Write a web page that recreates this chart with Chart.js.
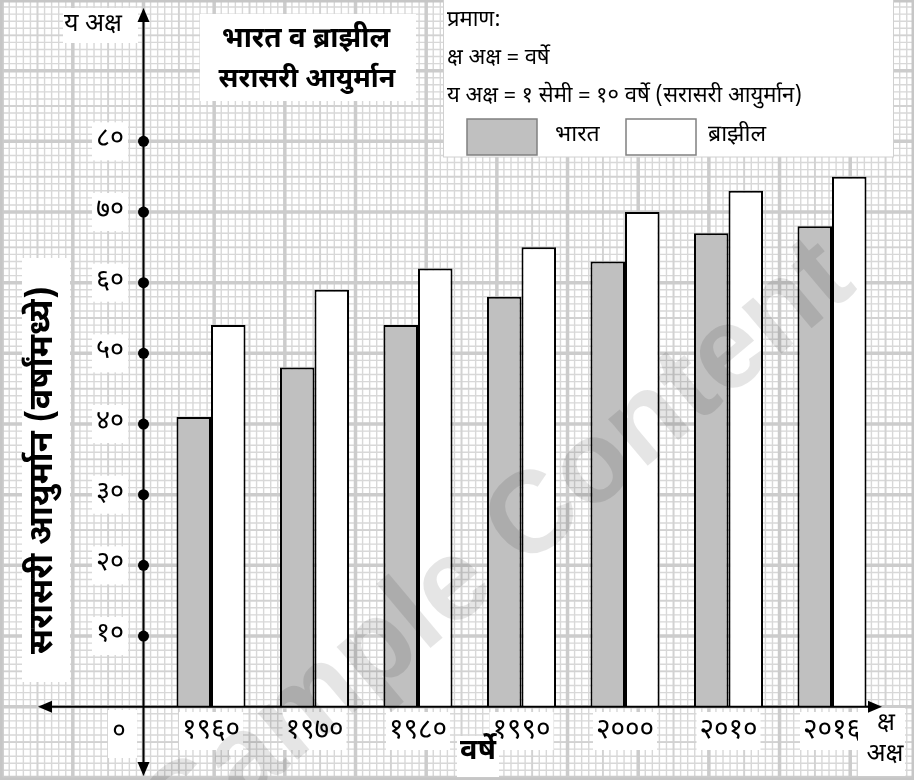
<!DOCTYPE html>
<html>
<head>
<meta charset="utf-8">
<script src="https://cdn.jsdelivr.net/npm/chart.js@4.4.1/dist/chart.umd.min.js"></script>
<style>
html,body{margin:0;padding:0;background:#fff;}
#wrap{width:914px;height:780px;position:relative;}
</style>
</head>
<body>
<div id="wrap"><canvas id="c" width="914" height="780"></canvas></div>
<script>
// ---- data ----
const categories = ['१९६०','१९७०','१९८०','१९९०','२०००','२०१०','२०१६'];
const seriesNames = ['भारत','ब्राझील'];
const indiaValues = [41, 48, 54, 58, 63, 67, 68];
const brazilValues = [54, 59, 62, 65, 70, 73, 75];
const yTickValues = [10, 20, 30, 40, 50, 60, 70, 80];
const yTickLabels = ['१०','२०','३०','४०','५०','६०','७०','८०'];
const originLabel = '०';
const titleLines = ['भारत व ब्राझील','सरासरी आयुर्मान'];
const yAxisTitle = 'सरासरी आयुर्मान (वर्षांमध्ये)';
const xAxisTitle = 'वर्षे';
const scaleLines = ['प्रमाण:','क्ष अक्ष = वर्षे','य अक्ष = १ सेमी = १० वर्षे (सरासरी आयुर्मान)'];
const yAxisName = 'य अक्ष';
const xAxisName = ['क्ष','अक्ष'];
const watermark = 'Sample Content';

const DEV = '"Noto Sans Devanagari","Noto Serif Devanagari","Lohit Devanagari","Mukta","FreeSerif","Noto Sans",sans-serif';
const AXIS_X = 143.5;

function whiteBox(ctx,x,y,w,h){ctx.fillStyle='#fff';ctx.fillRect(x,y,w,h);}
function txt(ctx,s,x,y,font,align){ctx.font=font;ctx.textAlign=align||'center';ctx.textBaseline='middle';ctx.fillStyle='#000';ctx.fillText(s,x,y);}

const paper = {
  id:'paper',
  beforeDraw(chart){
    const ctx = chart.ctx, y = chart.scales.y;
    const W = chart.width, H = chart.height;
    const step = Math.abs(y.getPixelForValue(1) - y.getPixelForValue(0));
    const y0 = y.getPixelForValue(0);
    ctx.save();
    ctx.fillStyle='#fff'; ctx.fillRect(0,0,W,H);
    const drawSet = (every, color, lw) => {
      ctx.strokeStyle=color; ctx.lineWidth=lw; ctx.beginPath();
      for(let k=-200;k<=200;k++){
        if(k % every !== 0) continue;
        const x = AXIS_X + k*step;
        if(x>=0 && x<=W){ctx.moveTo(x,0);ctx.lineTo(x,H);}
        const yy = y0 - k*step;
        if(yy>=0 && yy<=H){ctx.moveTo(0,yy);ctx.lineTo(W,yy);}
      }
      ctx.stroke();
    };
    drawSet(1,'#d8d8d8',1.4);
    drawSet(5,'#d2d2d2',1.8);
    drawSet(10,'#cccccc',3.5);
    ctx.strokeStyle='#c6c6c6'; ctx.lineWidth=5; ctx.strokeRect(0,0,W,H);
    ctx.restore();
  },
  afterDatasetsDraw(chart){
    const ctx = chart.ctx, y = chart.scales.y, x = chart.scales.x;
    const y0 = y.getPixelForValue(0);
    ctx.save();
    // y-axis title box
    whiteBox(ctx,22,258,48,424);
    // y tick labels
    yTickValues.forEach((v,i)=>{
      const ty = y.getPixelForValue(v);
      whiteBox(ctx,92,ty-19,36,38);
      txt(ctx,yTickLabels[i],110,ty,'27px '+DEV);
    });
    // x labels
    whiteBox(ctx,108,710,29,48);
    txt(ctx,originLabel,119,733,'26px '+DEV);
    categories.forEach((c,i)=>{
      const px = x.getPixelForValue(i);
      whiteBox(ctx,px-32,712,64,38);
      txt(ctx,c,px,733,'28px '+DEV);
    });
    whiteBox(ctx,457,736,42,41);
    txt(ctx,xAxisTitle,478,754,'bold 29px '+DEV);
    whiteBox(ctx,858,708,47,68);
    txt(ctx,xAxisName[0],886,725,'25px '+DEV);
    txt(ctx,xAxisName[1],885,756,'25px '+DEV);
    // y axis name
    whiteBox(ctx,63,8,75,35);
    txt(ctx,yAxisName,64,26,'25px '+DEV,'left');
    // title
    whiteBox(ctx,200,14,216,87);
    txt(ctx,titleLines[0],306,42,'bold 28px '+DEV);
    txt(ctx,titleLines[1],307,82,'bold 27px '+DEV);
    // y axis title rotated
    ctx.save();
    ctx.translate(46,470); ctx.rotate(-Math.PI/2);
    txt(ctx,yAxisTitle,0,0,'bold 34px '+DEV);
    ctx.restore();
    // scale / legend box
    whiteBox(ctx,443,0,450,157);
    ctx.strokeStyle='#d0d0d0'; ctx.lineWidth=1; ctx.strokeRect(443.5,-1,450,158);
    txt(ctx,scaleLines[0],447,22,'22px '+DEV,'left');
    txt(ctx,scaleLines[1],447,60,'22px '+DEV,'left');
    txt(ctx,scaleLines[2],447,98,'22px '+DEV,'left');
    const ds = chart.data.datasets;
    const sw = [[467,555],[626,708]];
    ds.forEach((d,i)=>{
      ctx.fillStyle=d.backgroundColor; ctx.fillRect(sw[i][0],119,70,36);
      ctx.strokeStyle='#808080'; ctx.lineWidth=1.5; ctx.strokeRect(sw[i][0],119,70,36);
      txt(ctx,d.label,sw[i][1],137,'23px '+DEV,'left');
    });
    // axes
    ctx.strokeStyle='#000'; ctx.fillStyle='#000'; ctx.lineWidth=2;
    ctx.beginPath(); ctx.moveTo(AXIS_X,18); ctx.lineTo(AXIS_X,768); ctx.stroke();
    ctx.beginPath(); ctx.moveTo(48,y0); ctx.lineTo(872,y0); ctx.stroke();
    const arrow=(tx,ty,dx,dy)=>{
      const L=14,Wd=6; const nx=-dy, ny=dx;
      ctx.beginPath(); ctx.moveTo(tx,ty);
      ctx.lineTo(tx-dx*L+nx*Wd, ty-dy*L+ny*Wd);
      ctx.lineTo(tx-dx*L-nx*Wd, ty-dy*L-ny*Wd);
      ctx.closePath(); ctx.fill();
    };
    arrow(AXIS_X,8,0,-1); arrow(AXIS_X,776,0,1);
    arrow(38,y0,-1,0); arrow(882,y0,1,0);
    yTickValues.forEach(v=>{
      ctx.beginPath(); ctx.arc(AXIS_X,y.getPixelForValue(v),5.5,0,Math.PI*2); ctx.fill();
    });
    // watermark
    ctx.save();
    ctx.translate(500,548); ctx.rotate(-40*Math.PI/180);
    ctx.font='bold 116px "Liberation Sans",Arial,sans-serif';
    ctx.textAlign='center'; ctx.textBaseline='middle';
    ctx.fillStyle='rgba(0,0,0,0.10)';
    ctx.fillText(watermark,0,0);
    ctx.restore();
    ctx.restore();
  }
};

new Chart(document.getElementById('c'),{
  type:'bar',
  data:{
    labels:categories,
    datasets:[
      {label:seriesNames[0],data:indiaValues,backgroundColor:'#c0c0c0',borderColor:'#000',borderWidth:2},
      {label:seriesNames[1],data:brazilValues,backgroundColor:'#ffffff',borderColor:'#000',borderWidth:2}
    ]
  },
  options:{
    responsive:false,
    animation:false,
    layout:{padding:{left:159.25,right:30.25,top:0,bottom:0}},
    datasets:{bar:{categoryPercentage:0.667,barPercentage:1.0}},
    scales:{
      x:{display:false},
      y:{display:false,min:-10.37,max:100}
    },
    plugins:{legend:{display:false},tooltip:{enabled:false},title:{display:false}}
  },
  plugins:[paper]
});
</script>
</body>
</html>
